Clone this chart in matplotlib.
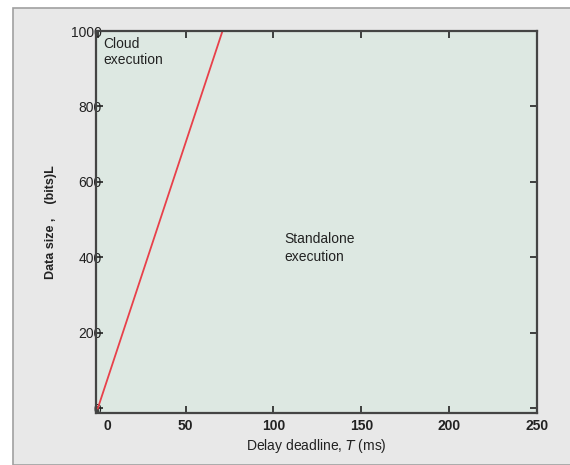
import matplotlib.pyplot as plt
from matplotlib.patches import Rectangle
from matplotlib.transforms import ScaledTranslation

plt.rcParams['font.family'] = ['Liberation Sans', 'DejaVu Sans']

# boundary line between cloud and standalone execution
deadline_ms = [0, 71]
data_size = [0, 1000]

x_ticks = [0, 50, 100, 150, 200, 250]
y_ticks = [0, 200, 400, 600, 800, 1000]

fig = plt.figure(figsize=(5.7, 4.65), dpi=100)
fig.patch.set_facecolor('white')

# gray panel behind the plot (screenshot frame)
fig.add_artist(Rectangle((13 / 570, 0), 1.0, 1 - 8 / 465,
                         transform=fig.transFigure, facecolor='#e8e8e8',
                         edgecolor='#a0a0a0', linewidth=1.2, zorder=0))

ax = fig.add_axes([96 / 570, 1 - 413 / 465, (537 - 96) / 570, (413 - 31) / 465])
ax.set_facecolor('#dde8e2')

ax.plot(deadline_ms, data_size, color='#e8404a', linewidth=1.3)

ax.set_xlim(-1, 250)
ax.set_ylim(-12, 1000)
ax.set_xticks(x_ticks)
ax.set_yticks(y_ticks)
ax.tick_params(direction='in', length=5, width=1.2, top=True, right=True,
               labelsize=10, colors='#222222', pad=4)
ax.tick_params(axis='y', pad=-4)
for lbl in ax.get_xticklabels():
    lbl.set_fontweight('bold')
# the "0" label sits a little to the right in the original
first = ax.get_xticklabels()[0]
first.set_transform(first.get_transform() + ScaledTranslation(0.1, 0, fig.dpi_scale_trans))
for s in ax.spines.values():
    s.set_linewidth(1.6)
    s.set_color('#444444')

ax.text(3, 985, 'Cloud\nexecution', ha='left', va='top', fontsize=10,
        color='#222222', linespacing=1.2)
ax.text(106, 425, 'Standalone\nexecution', ha='left', va='center', fontsize=10,
        color='#222222', linespacing=1.3)

ax.set_xlabel('Delay deadline, $T$ (ms)', fontsize=10, color='#222222', labelpad=3)
ax.set_ylabel('Data size ,    (bits)L', fontsize=9, fontweight='bold',
              color='#222222', labelpad=10)

fig.savefig('out.png', dpi=100, facecolor=fig.get_facecolor())
